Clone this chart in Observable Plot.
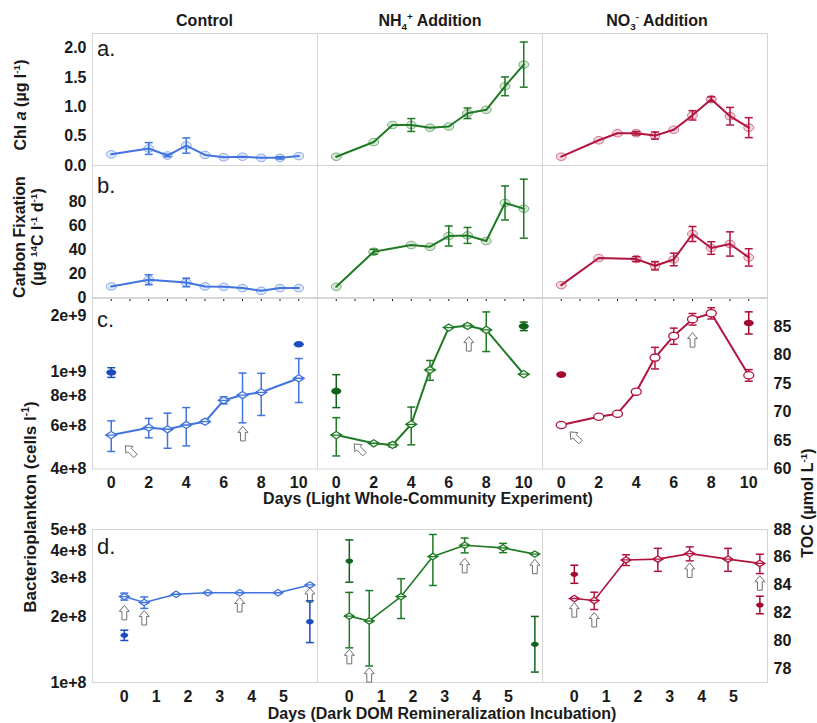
<!DOCTYPE html>
<html><head><meta charset="utf-8">
<script src="https://cdn.jsdelivr.net/npm/d3@7"></script>
<script src="https://cdn.jsdelivr.net/npm/@observablehq/plot@0.6"></script>
<style>
body{margin:0;background:#fff;}
#root{position:relative;width:817px;height:723px;overflow:hidden;background:#fff;font-family:"Liberation Sans",Arial,Helvetica,sans-serif;color:#1a1a1a;}
.t{position:absolute;font-weight:bold;font-size:16px;line-height:1;white-space:nowrap;transform:translate(-50%,-50%);}
.r{transform:translate(-50%,-50%) rotate(-90deg);}
.lbl{position:absolute;font-size:22px;line-height:1;font-weight:normal;}
sup,sub{font-size:0.62em;line-height:0;}
</style></head><body><div id="root"></div>
<script>
// ---------- data ----------
const treatments = ["Control", "NH4+ Addition", "NO3- Addition"];
const lineColors = ["#4174de", "#1f7a24", "#b3143f"];
const darkColors = ["#1a4cbd", "#10631a", "#a30a30"];

// a. Chl a (ug/l)
const daysA = [0, 2, 3, 4, 5, 6, 7, 8, 9, 10];
const chlControl = [0.19, 0.29, 0.17, 0.34, 0.18, 0.14, 0.15, 0.13, 0.13, 0.16];
const chlControlSd = [0, 0.10, 0.02, 0.13, 0, 0, 0, 0, 0.02, 0];
const chlNH4 = [0.15, 0.40, 0.69, 0.69, 0.645, 0.665, 0.89, 0.95, 1.35, 1.72];
const chlNH4Sd = [0, 0, 0, 0.11, 0, 0, 0.09, 0, 0.16, 0.385];
const chlNO3 = [0.15, 0.43, 0.55, 0.55, 0.51, 0.61, 0.855, 1.13, 0.84, 0.645];
const chlNO3Sd = [0, 0, 0, 0.03, 0.06, 0, 0.08, 0.04, 0.15, 0.17];

// b. Carbon fixation (ug 14C /l /d)
const daysB = [0, 2, 4, 5, 6, 7, 8, 9, 10];
const cfixControl = [9.3, 14.9, 12.6, 9.3, 9.0, 7.9, 5.6, 7.9, 7.9];
const cfixControlSd = [0, 4.2, 3.6, 0, 0, 0, 0, 0, 0];
const cfixNH4 = [9.0, 38.5, 44.1, 42.7, 51.7, 52.2, 47.5, 79.5, 74.7];
const cfixNH4Sd = [0, 2, 0, 0, 8.4, 6.7, 0, 14.3, 24.8];
const cfixNO3 = [10.4, 33.2, 32.3, 26.7, 32.0, 53.4, 41.6, 45.0, 33.7];
const cfixNO3Sd = [0, 0, 2, 3.5, 5.3, 6.3, 5.3, 10.2, 7.3];

// c. Bacterioplankton (cells/l), light experiment
const daysC = [0, 2, 3, 4, 5, 6, 7, 8, 10];
const bactControl = [5.51e8, 5.91e8, 5.82e8, 6.06e8, 6.25e8, 7.65e8, 8.04e8, 8.25e8, 9.42e8];
const bactControlSd = [0.79e8, 0.54e8, 0.955e8, 1.085e8, 0.1e8, 0.255e8, 1.855e8, 1.62e8, 1.93e8];
const bactNH4 = [5.51e8, 5.10e8, 5.02e8, 6.10e8, 1.019e9, 1.52e9, 1.545e9, 1.487e9, 9.79e8];
const bactNH4Sd = [0.985e8, 0, 0.1e8, 1.075e8, 0.95e8, 0, 0.25e8, 2.75e8, 0];
const bactNO3 = [6.06e8, 6.55e8, 6.74e8, 8.3e8, 1.145e9, 1.405e9, 1.646e9, 1.741e9, 9.69e8];
const bactNO3Sd = [0.1e8, 0.1e8, 0.1e8, 0.15e8, 1.16e8, 1.07e8, 0.9e8, 0.925e8, 0.53e8];

// c. TOC (umol/L), light experiment
const tocDaysC = [0, 10];
const tocControlC = [76.97, 81.96];
const tocControlCSd = [0.85, 0];
const tocNH4C = [73.7, 85.1];
const tocNH4CSd = [2.9, 0.75];
const tocNO3C = [76.6, 85.7];
const tocNO3CSd = [0, 1.95];

// d. Bacterioplankton, dark DOM remineralization incubation
const daysD = [0, 0.625, 1.625, 2.625, 3.625, 4.83, 5.83];
const bactDControl = [2.47e8, 2.32e8, 2.53e8, 2.57e8, 2.57e8, 2.57e8, 2.79e8];
const bactDControlSd = [0.09e8, 0.14e8, 0, 0, 0, 0, 0];
const bactDNH4 = [2.01e8, 1.91e8, 2.47e8, 3.76e8, 4.24e8, 4.12e8, 3.86e8];
const bactDNH4Sd = [0.57e8, 0.72e8, 0.51e8, 0.985e8, 0.33e8, 0.2e8, 0];
const bactDNO3 = [2.42e8, 2.37e8, 3.63e8, 3.66e8, 3.88e8, 3.66e8, 3.5e8];
const bactDNO3Sd = [0, 0.215e8, 0.205e8, 0.44e8, 0.285e8, 0.44e8, 0.355e8];

// d. TOC, dark incubation
const tocDaysD = [0, 5.83];
const tocDControl = [80.39, 81.37];
const tocDControlSd = [0.37, 1.5];
const tocDNH4 = [85.73, 79.75];
const tocDNH4Sd = [1.52, 2.0];
const tocDNO3 = [84.78, 82.57];
const tocDNO3Sd = [0.65, 0.63];

// sampling arrows (day, bacterioplankton level)
const arrowDiagCDays = [1.03, 1.24, 0.76];
const arrowDiagCVals = [4.74e8, 4.82e8, 5.4e8];
const arrowUpCDays = [7.02, 7.07, 7.0];
const arrowUpCVals = [5.57e8, 1.3e9, 1.35e9];
const arrowDDays = [0, 0.625, 3.625, 5.83];
const arrowDControl = [2.08e8, 1.97e8, 2.26e8, 2.5e8];
const arrowDNH4 = [1.31e8, 1.08e8, 3.41e8, 3.38e8];
const arrowDNO3 = [2.14e8, 1.93e8, 3.25e8, 2.84e8];

// axis ticks
const ticksChl = [0, 0.5, 1, 1.5, 2];
const ticksCfix = [0, 20, 40, 60, 80];
const ticksBactC = [4e8, 6e8, 8e8, 1e9];
const topTickBactC = [2e9];
const ticksTocC = [60, 65, 70, 75, 80, 85];
const ticksBactD = [1e8, 2e8, 3e8, 4e8, 5e8];
const ticksTocD = [78, 80, 82, 84, 86, 88];
const ticksDaysC = [0, 2, 4, 6, 8, 10];
const ticksDaysD = [0, 1, 2, 3, 4, 5];

// ---------- helpers ----------
const root = document.getElementById("root");
const COLX = [92, 317, 542], PW = 225;
const ML = 80, MR = 70, MT = 16, MB = 40;
const FONT = "'Liberation Sans', Arial, Helvetica, sans-serif";

function series(days, vals, sds) {
  return days.map((d, i) => ({day: d, v: vals[i], sd: sds ? sds[i] : 0}));
}
function ellipse(rx, ry) {
  const k = 0.5523;
  return {draw(ctx) {
    ctx.moveTo(rx, 0);
    ctx.bezierCurveTo(rx, ry * k, rx * k, ry, 0, ry);
    ctx.bezierCurveTo(-rx * k, ry, -rx, ry * k, -rx, 0);
    ctx.bezierCurveTo(-rx, -ry * k, -rx * k, -ry, 0, -ry);
    ctx.bezierCurveTo(rx * k, -ry, rx, -ry * k, rx, 0);
    ctx.closePath();
  }};
}
function diamond(rx, ry) {
  return {draw(ctx) {
    ctx.moveTo(-rx, 0); ctx.lineTo(0, -ry); ctx.lineTo(rx, 0); ctx.lineTo(0, ry); ctx.closePath();
    ctx.moveTo(-rx, 0); ctx.lineTo(rx, 0);
  }};
}
function cap(w) {
  return {draw(ctx) { ctx.moveTo(-w, 0); ctx.lineTo(w, 0); }};
}
function arrowSym(deg) {
  const pts = [[0, -7.5], [5, -1.5], [2.4, -1.5], [2.4, 7], [-2.4, 7], [-2.4, -1.5], [-5, -1.5]];
  const a = deg * Math.PI / 180, co = Math.cos(a), si = Math.sin(a);
  const r = pts.map(([x, y]) => [x * co - y * si, x * si + y * co]);
  return {draw(ctx) {
    ctx.moveTo(r[0][0], r[0][1]);
    for (let i = 1; i < r.length; i++) ctx.lineTo(r[i][0], r[i][1]);
    ctx.closePath();
  }};
}
function errMarks(data, color, sw = 1.5, cw = 4) {
  const eb = data.filter(d => d.sd > 0);
  return [
    Plot.ruleX(eb, {x: "day", y1: d => d.v - d.sd, y2: d => d.v + d.sd, stroke: color, strokeWidth: sw}),
    Plot.dot(eb, {x: "day", y: d => d.v - d.sd, symbol: cap(cw), stroke: color, strokeWidth: sw, fill: "none"}),
    Plot.dot(eb, {x: "day", y: d => d.v + d.sd, symbol: cap(cw), stroke: color, strokeWidth: sw, fill: "none"})
  ];
}
function addPlot(opts, col, top, h) {
  const p = Plot.plot({
    width: PW + ML + MR, height: h + MT + MB,
    marginLeft: ML, marginRight: MR, marginTop: MT, marginBottom: MB,
    style: {background: "transparent", overflow: "visible", fontFamily: FONT, fontSize: "16px", fontWeight: "bold", color: "#1a1a1a"},
    ...opts
  });
  p.style.position = "absolute";
  p.style.left = (COLX[col] - ML) + "px";
  p.style.top = (top - MT) + "px";
  root.appendChild(p);
}
function arrows(days, vals, rot) {
  return Plot.dot(days.map((d, i) => ({day: d, v: vals[i]})), {
    x: "day", y: "v", symbol: arrowSym(rot), fill: "white", stroke: "#707070", strokeWidth: 1
  });
}

// ---------- row a & b ----------
const chl = [[chlControl, chlControlSd], [chlNH4, chlNH4Sd], [chlNO3, chlNO3Sd]];
const cfix = [[cfixControl, cfixControlSd], [cfixNH4, cfixNH4Sd], [cfixNO3, cfixNO3Sd]];
const frameColor = "#d5d5d5";

function rowAB(sets, days, domain, ticks, fmt, top, h, xTicks) {
  sets.forEach(([vals, sds], col) => {
    const data = series(days, vals, sds);
    const c = lineColors[col];
    addPlot({
      x: {domain: [-1, 11], ticks: xTicks ? [0,1,2,3,4,5,6,7,8,9,10] : [], tickSize: xTicks ? 4 : 0, tickFormat: () => "", label: null, axis: xTicks ? "bottom" : null},
      y: {domain, ticks, tickFormat: fmt, tickSize: 0, tickPadding: 6, label: null, axis: col === 0 ? "left" : null},
      marks: [
        Plot.frame({stroke: frameColor}),
        Plot.line(data, {x: "day", y: "v", stroke: c, strokeWidth: 2}),
        ...errMarks(data, c),
        Plot.dot(data, {x: "day", y: "v", symbol: ellipse(5, 3.8), fill: c, fillOpacity: 0.18, stroke: c, strokeOpacity: 0.55, strokeWidth: 1})
      ]
    }, col, top, h);
  });
}
rowAB(chl, daysA, [0, 2.25], ticksChl, d3.format(".1f"), 33, 132, false);
rowAB(cfix, daysB, [0, 111], ticksCfix, d3.format("d"), 165, 132, true);

// ---------- row c ----------
const bactC = [[bactControl, bactControlSd], [bactNH4, bactNH4Sd], [bactNO3, bactNO3Sd]];
const tocC = [[tocControlC, tocControlCSd], [tocNH4C, tocNH4CSd], [tocNO3C, tocNO3CSd]];
const expFmt = d3.format(".0e");
const C_TOP = 298, C_H = 170.5;
bactC.forEach(([vals, sds], col) => {
  const data = series(daysC, vals, sds);
  const c = lineColors[col];
  const sym = col === 2 ? ellipse(5, 3.6) : diamond(5.5, 3.6);
  addPlot({
    x: {domain: [-1, 11], ticks: ticksDaysC, tickFormat: d3.format("d"), tickSize: 0, tickPadding: 8, label: null},
    y: {type: "log", domain: [4e8, 2e9], ticks: ticksBactC, tickFormat: expFmt, tickSize: 0, tickPadding: 6, label: null, axis: col === 0 ? "left" : null},
    marks: [
      Plot.frame({stroke: frameColor}),
      col === 0 ? Plot.text(topTickBactC, {y: d => d, text: d => expFmt(d), frameAnchor: "left", textAnchor: "end", dx: -6, dy: 17, fontSize: 16, fontWeight: "bold"}) : null,
      Plot.line(data, {x: "day", y: "v", stroke: c, strokeWidth: 2}),
      ...errMarks(data, c),
      Plot.dot(data, {x: "day", y: "v", symbol: sym, fill: "white", stroke: c, strokeWidth: 1.3}),
      arrows([arrowDiagCDays[col]], [arrowDiagCVals[col]], -45),
      arrows([arrowUpCDays[col]], [arrowUpCVals[col]], 0)
    ]
  }, col, C_TOP, C_H);
});
tocC.forEach(([vals, sds], col) => {
  const data = series(tocDaysC, vals, sds);
  const c = darkColors[col];
  addPlot({
    x: {domain: [-1, 11], axis: null},
    y: {domain: [60, 90], ticks: ticksTocC, tickSize: 0, tickPadding: 6, label: null, axis: col === 2 ? "right" : null},
    marks: [
      ...errMarks(data, c),
      Plot.dot(data, {x: "day", y: "v", symbol: ellipse(5, 3.3), fill: c, stroke: "none"})
    ]
  }, col, C_TOP, C_H);
});

// ---------- row d ----------
const bactD = [[bactDControl, bactDControlSd], [bactDNH4, bactDNH4Sd], [bactDNO3, bactDNO3Sd]];
const tocD = [[tocDControl, tocDControlSd], [tocDNH4, tocDNH4Sd], [tocDNO3, tocDNO3Sd]];
const arrowD = [arrowDControl, arrowDNH4, arrowDNO3];
const D_TOP = 528.5, D_H = 153;
const X_D = [-1, 6.07];
bactD.forEach(([vals, sds], col) => {
  const data = series(daysD, vals, sds);
  const c = lineColors[col];
  addPlot({
    x: {domain: X_D, ticks: ticksDaysD, tickFormat: d3.format("d"), tickSize: 0, tickPadding: 8, label: null},
    y: {type: "log", domain: [1e8, 5e8], ticks: ticksBactD, tickFormat: expFmt, tickSize: 0, tickPadding: 6, label: null, axis: col === 0 ? "left" : null},
    marks: [
      Plot.frame({stroke: frameColor}),
      Plot.line(data, {x: "day", y: "v", stroke: c, strokeWidth: 1.6}),
      ...errMarks(data, c),
      Plot.dot(data, {x: "day", y: "v", symbol: diamond(5, 3.2), fill: "white", stroke: c, strokeWidth: 1.3}),
      arrows(arrowDDays, arrowD[col], 0)
    ]
  }, col, D_TOP, D_H);
});
tocD.forEach(([vals, sds], col) => {
  const data = series(tocDaysD, vals, sds);
  const c = darkColors[col];
  addPlot({
    x: {domain: X_D, axis: null},
    y: {domain: [77, 88], ticks: ticksTocD, tickSize: 0, tickPadding: 6, label: null, axis: col === 2 ? "right" : null},
    marks: [
      ...errMarks(data, c),
      Plot.dot(data, {x: "day", y: "v", symbol: ellipse(3.8, 2.6), fill: c, stroke: "none"})
    ]
  }, col, D_TOP, D_H);
});

// ---------- text ----------
function addText(html, x, y, cls, extra) {
  const el = document.createElement("div");
  el.className = cls;
  el.innerHTML = html;
  el.style.left = x + "px";
  el.style.top = y + "px";
  if (extra) Object.assign(el.style, extra);
  root.appendChild(el);
}
addText("Control", 204.5, 21, "t");
addText("NH<sub>4</sub><sup>+</sup> Addition", 430, 21, "t");
addText("NO<sub>3</sub><sup>-</sup> Addition", 657, 21, "t");
addText("Days (Light Whole-Community Experiment)", 428, 499, "t");
addText("Days (Dark DOM Remineralization Incubation)", 442, 714, "t");
addText("Chl <i>a</i> (µg l<sup>-1</sup>)", 21, 105, "t r");
addText("Carbon Fixation", 20, 237, "t r");
addText("(µg <sup>14</sup>C l<sup>-1</sup> d<sup>-1</sup>)", 38, 237, "t r");
addText("Bacterioplankton (cells l<sup>-1</sup>)", 30, 507, "t r", {fontSize: "17px"});
addText("TOC (µmol L<sup>-1</sup>)", 808, 503, "t r");
addText("a.", 97, 38.4, "lbl");
addText("b.", 97, 174.7, "lbl");
addText("c.", 97, 308.7, "lbl");
addText("d.", 97, 536.4, "lbl");
</script></body></html>
